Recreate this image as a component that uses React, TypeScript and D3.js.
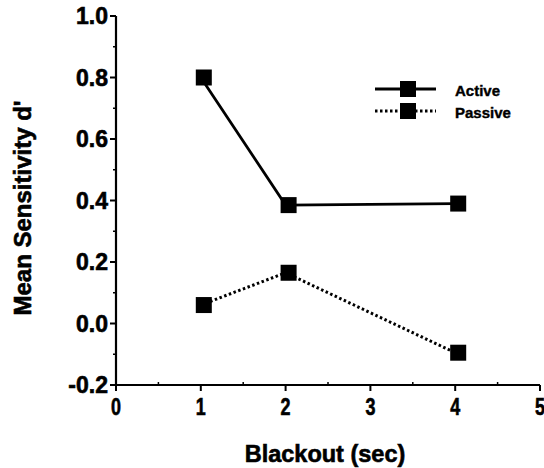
import React from 'react';
import * as d3 from 'd3';

// blackout durations (sec) and mean d' per group
const blackout = [1, 2, 4];
const activeValues = [0.8, 0.385, 0.39];
const passiveValues = [0.06, 0.165, -0.095];
const xTicks = [0, 1, 2, 3, 4, 5];
const yTicks = [-0.2, 0.0, 0.2, 0.4, 0.6, 0.8, 1.0];
const seriesNames = ['Active', 'Passive'];

const W = 544;
const H = 468;
const font = "'Liberation Sans', Arial, Helvetica, sans-serif";

export default function App() {
  const x = d3.scaleLinear().domain([0, 5]).range([116, 540]);
  const y = d3.scaleLinear().domain([-0.2, 1.0]).range([385, 16]);

  const line = d3
    .line<number>()
    .x((_, i) => x(blackout[i]))
    .y((d) => y(d));

  const yMinor = d3.range(-0.1, 1.0, 0.2);
  const xMinor = d3.range(0.5, 5, 1);
  const ms = 16; // marker size

  const series = [
    { name: seriesNames[0], values: activeValues, dash: null, width: 2.8 },
    { name: seriesNames[1], values: passiveValues, dash: '2.5 2.5', width: 3 },
  ];

  // scanned print looks heavier than a plain bold face
  const heavy = { stroke: '#000', strokeWidth: 0.6 };

  return (
    <svg
      width={W}
      height={H}
      style={{ position: 'absolute', left: 0, top: 0, background: '#fff' }}
      fontFamily={font}
    >
      {/* axes */}
      <line x1={x(0)} x2={x(0)} y1={y(1.0)} y2={y(-0.2)} stroke="#000" strokeWidth={2.2} />
      <line x1={x(0)} x2={x(5)} y1={y(-0.2)} y2={y(-0.2)} stroke="#000" strokeWidth={2.2} />

      {yTicks.map((t) => (
        <g key={'y' + t}>
          <line x1={x(0) - 6} x2={x(0)} y1={y(t)} y2={y(t)} stroke="#000" strokeWidth={2} />
          <text
            x={x(0) - 8}
            y={y(t)}
            dy="0.36em"
            textAnchor="end"
            fontSize={23}
            fontWeight="bold"
            {...heavy}
          >
            {t.toFixed(1)}
          </text>
        </g>
      ))}
      {yMinor.map((t) => (
        <line key={'ym' + t} x1={x(0) - 3} x2={x(0)} y1={y(t)} y2={y(t)} stroke="#000" strokeWidth={1.5} />
      ))}

      {xTicks.map((t) => (
        <g key={'x' + t}>
          <line x1={x(t)} x2={x(t)} y1={y(-0.2)} y2={y(-0.2) + 6} stroke="#000" strokeWidth={2} />
          <text
            x={x(t)}
            y={y(-0.2) + 30}
            textAnchor="middle"
            fontSize={23}
            fontWeight="bold"
            transform={`translate(${x(t)},0) scale(0.78,1) translate(${-x(t)},0)`}
            {...heavy}
          >
            {t}
          </text>
        </g>
      ))}
      {xMinor.map((t) => (
        <line key={'xm' + t} x1={x(t)} x2={x(t)} y1={y(-0.2) - 3} y2={y(-0.2)} stroke="#000" strokeWidth={1.5} />
      ))}

      {/* axis titles */}
      <text
        x={(x(0) + x(5)) / 2 - 3}
        y={462}
        textAnchor="middle"
        fontSize={23.5}
        fontWeight="bold"
        {...heavy}
      >
        Blackout (sec)
      </text>
      <text
        transform={`translate(31,${208}) rotate(-90)`}
        textAnchor="middle"
        fontSize={24}
        fontWeight="bold"
        {...heavy}
      >
        Mean Sensitivity d'
      </text>

      {/* series */}
      {series.map((s) => (
        <g key={s.name}>
          <path
            d={line(s.values) ?? ''}
            fill="none"
            stroke="#000"
            strokeWidth={s.width}
            strokeDasharray={s.dash ?? undefined}
          />
          {s.values.map((v, i) => (
            <rect
              key={i}
              x={x(blackout[i]) - ms / 2 + 3}
              y={y(v) - ms / 2}
              width={ms}
              height={ms}
              fill="#000"
            />
          ))}
        </g>
      ))}

      {/* legend */}
      {series.map((s, i) => {
        const ly = 89 + i * 22;
        return (
          <g key={'lg' + s.name}>
            <line
              x1={375}
              x2={436}
              y1={ly}
              y2={ly}
              stroke="#000"
              strokeWidth={s.width}
              strokeDasharray={s.dash ?? undefined}
            />
            <rect x={400} y={ly - 8} width={16} height={16} fill="#000" />
            <text x={455} y={ly + 2} dy="0.36em" fontSize={15} fontWeight="bold" stroke="#000" strokeWidth={0.4}>
              {s.name}
            </text>
          </g>
        );
      })}
    </svg>
  );
}
